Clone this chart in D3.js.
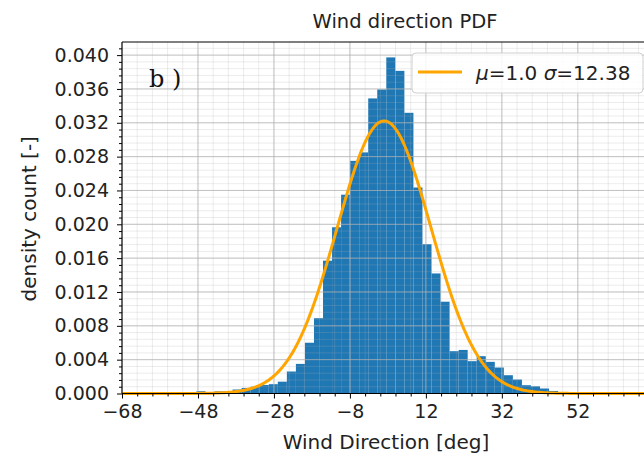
<!DOCTYPE html>
<html>
<head>
<meta charset="utf-8">
<script src="https://cdn.jsdelivr.net/npm/d3@7"></script>
<style>
  html, body { margin: 0; padding: 0; background: #fff; overflow: hidden; }
  svg { display: block; font-family: "DejaVu Sans", sans-serif; }
</style>
</head>
<body>
<svg id="chart" width="644" height="458"></svg>
<script>
// ---- data ----
const binEdges = [-48.40, -46.02, -43.64, -41.26, -38.88, -36.50, -34.12, -31.74, -29.36, -26.98,
                  -24.60, -22.22, -19.84, -17.46, -15.08, -12.70, -10.32, -7.94, -5.56, -3.18,
                  -0.80, 1.58, 3.96, 6.34, 8.72, 11.10, 13.48, 15.86, 18.24, 20.62,
                  23.00, 25.38, 27.76, 30.14, 32.52, 34.90, 37.28, 39.66, 42.04, 44.42, 46.80];
const density = [0.00027, 0.00010, 0.00025, 0.00025, 0.00047, 0.00066, 0.00080, 0.00100, 0.00110, 0.00140,
                 0.00260, 0.00350, 0.00600, 0.00890, 0.01570, 0.01965, 0.02350, 0.02750, 0.02850, 0.03488,
                 0.03594, 0.03973, 0.03814, 0.03318, 0.02435, 0.01765, 0.01419, 0.01085, 0.00500, 0.00515,
                 0.00382, 0.00441, 0.00374, 0.00307, 0.00216, 0.00165, 0.00098, 0.00085, 0.00059, 0.00030];
const fitMu = [1.0];
const fitSigma = [12.38];
const xTickValues = [-68, -48, -28, -8, 12, 32, 52];
const yTickValues = [0.000, 0.004, 0.008, 0.012, 0.016, 0.020, 0.024, 0.028, 0.032, 0.036, 0.040];
const titleText = "Wind direction PDF";
const xLabelText = "Wind Direction [deg]";
const yLabelText = "density count [-]";
const panelLabel = "b )";

// ---- layout ----
const svg = d3.select("#chart");
const L = 122, R = 650, T = 42, B = 393.5;
const x = d3.scaleLinear().domain([-68, 71]).range([L, R]);
const y = d3.scaleLinear().domain([0, 0.04155]).range([B, T]);

svg.append("rect").attr("width", 644).attr("height", 458).attr("fill", "#fff");

// bars
const bins = density.map((d, i) => ({x0: binEdges[i], x1: binEdges[i + 1], v: d}));
svg.append("g").selectAll("rect").data(bins).join("rect")
  .attr("x", d => x(d.x0))
  .attr("width", d => x(d.x1) - x(d.x0))
  .attr("y", d => y(d.v))
  .attr("height", d => B - y(d.v))
  .attr("fill", "#1f77b4");

// grid (drawn over bars)
const xMinor = d3.range(-68, 71.001, 4);
const yMinor = d3.range(0, 0.0416, 0.0008);
const grid = svg.append("g");
grid.selectAll(".xm").data(xMinor).join("line")
  .attr("x1", d => x(d)).attr("x2", d => x(d)).attr("y1", T).attr("y2", B)
  .attr("stroke", "#b0b0b0").attr("stroke-opacity", 0.3).attr("stroke-width", 0.8);
grid.selectAll(".ym").data(yMinor).join("line")
  .attr("y1", d => y(d)).attr("y2", d => y(d)).attr("x1", L).attr("x2", R)
  .attr("stroke", "#b0b0b0").attr("stroke-opacity", 0.3).attr("stroke-width", 0.8);
grid.selectAll(".xM").data(xTickValues).join("line")
  .attr("x1", d => x(d)).attr("x2", d => x(d)).attr("y1", T).attr("y2", B)
  .attr("stroke", "#b0b0b0").attr("stroke-opacity", 0.7).attr("stroke-width", 1);
grid.selectAll(".yM").data(yTickValues).join("line")
  .attr("y1", d => y(d)).attr("y2", d => y(d)).attr("x1", L).attr("x2", R)
  .attr("stroke", "#b0b0b0").attr("stroke-opacity", 0.7).attr("stroke-width", 1);

// fitted normal pdf from legend parameters
const mu = fitMu[0], sg = fitSigma[0];
const xs = d3.range(-68, 71.01, 0.25);
const pdf = v => Math.exp(-0.5 * ((v - mu) / sg) ** 2) / (sg * Math.sqrt(2 * Math.PI));
svg.append("path")
  .datum(xs)
  .attr("d", d3.line().x(d => x(d)).y(d => y(pdf(d))))
  .attr("fill", "none").attr("stroke", "#ffa500").attr("stroke-width", 3);

// axes
const fs = 19;
const xAxis = d3.axisBottom(x).tickValues(xTickValues).tickSize(5).tickPadding(6)
  .tickFormat(d => d3.format("d")(d).replace("-", "\u2212"));
const gx = svg.append("g").attr("transform", `translate(0,${B})`).call(xAxis);
const xAxisMinor = d3.axisBottom(x).tickValues(xMinor.filter(v => !xTickValues.includes(v))).tickSize(3).tickFormat("");
const gxm = svg.append("g").attr("transform", `translate(0,${B})`).call(xAxisMinor);
const yAxis = d3.axisLeft(y).tickValues(yTickValues).tickSize(5).tickPadding(8).tickFormat(d3.format(".3f"));
const gy = svg.append("g").attr("transform", `translate(${L},0)`).call(yAxis);
const yAxisMinor = d3.axisLeft(y).tickValues(yMinor.filter((v, i) => i % 5 !== 0)).tickSize(3).tickFormat("");
const gym = svg.append("g").attr("transform", `translate(${L},0)`).call(yAxisMinor);
[gx, gxm, gy, gym].forEach(g => {
  g.select(".domain").remove();
  g.selectAll(".tick line").attr("stroke", "#000").attr("stroke-width", 1);
  g.selectAll("text").attr("font-family", "DejaVu Sans").attr("font-size", fs).attr("fill", "#222");
});
// spines
svg.append("line").attr("x1", L).attr("x2", L).attr("y1", T).attr("y2", B).attr("stroke", "#000").attr("stroke-width", 1.1);
svg.append("line").attr("x1", L).attr("x2", R).attr("y1", B).attr("y2", B).attr("stroke", "#000").attr("stroke-width", 1.1);
svg.append("line").attr("x1", L).attr("x2", R).attr("y1", T).attr("y2", T).attr("stroke", "#000").attr("stroke-width", 1.1);
svg.append("line").attr("x1", R).attr("x2", R).attr("y1", T).attr("y2", B).attr("stroke", "#000").attr("stroke-width", 1.1);

// title and labels
svg.append("text").attr("x", 405).attr("y", 28).attr("text-anchor", "middle")
  .attr("font-size", 19.5).attr("fill", "#222").text(titleText);
svg.append("text").attr("x", (L + R) / 2).attr("y", 449).attr("text-anchor", "middle")
  .attr("font-size", 20).attr("fill", "#222").text(xLabelText);
svg.append("text").attr("transform", `translate(36,${(T + B) / 2 + 1}) rotate(-90)`).attr("text-anchor", "middle")
  .attr("font-size", 20).attr("fill", "#222").text(yLabelText);

// panel label
svg.append("text").attr("x", 149).attr("y", 87).attr("font-family", "DejaVu Serif")
  .attr("font-size", 24).attr("fill", "#111").text(panelLabel);

// legend
const lg = svg.append("g");
lg.append("rect").attr("x", 412).attr("y", 53).attr("width", 231).attr("height", 40).attr("rx", 4)
  .attr("fill", "#fff").attr("fill-opacity", 0.85).attr("stroke", "#d0d0d0");
lg.append("line").attr("x1", 418).attr("x2", 462).attr("y1", 72).attr("y2", 72)
  .attr("stroke", "#ffa500").attr("stroke-width", 3);
const lt = lg.append("text").attr("x", 476).attr("y", 80).attr("font-size", 20).attr("fill", "#222");
lt.append("tspan").attr("font-style", "italic").text("\u03bc");
lt.append("tspan").text("=" + fitMu[0].toFixed(1) + " ");
lt.append("tspan").attr("font-style", "italic").text("\u03c3");
lt.append("tspan").text("=" + fitSigma[0].toFixed(2));
</script>
</body>
</html>
